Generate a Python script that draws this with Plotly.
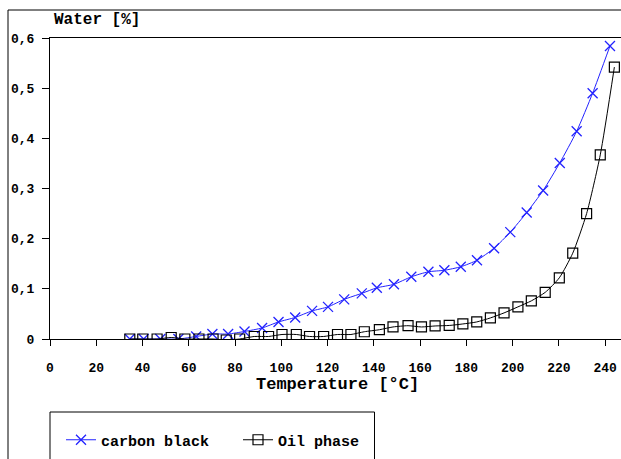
import plotly.graph_objects as go

# Carbon black series
cb_temp = [34.5, 40.5, 47.7, 55.5, 63.2, 70.2, 77.0, 84.1, 91.7, 98.8, 106.0, 113.3,
           120.2, 127.2, 134.8, 141.3, 148.7, 156.2, 163.6, 170.5, 177.6, 184.6,
           192.0, 199.0, 206.1, 213.2, 220.4, 227.7, 234.6, 242.1]
cb_water = [0.0, 0.0, 0.0, 0.0, 0.005, 0.01, 0.01, 0.015, 0.022, 0.034, 0.043, 0.056,
            0.064, 0.079, 0.091, 0.102, 0.109, 0.124, 0.134, 0.137, 0.144, 0.157,
            0.181, 0.213, 0.252, 0.296, 0.351, 0.414, 0.49, 0.584]

# Oil phase series
oil_temp = [34.5, 40.1, 46.3, 52.4, 58.3, 64.4, 70.5, 76.2, 82.0, 88.3, 94.5, 100.3,
            106.5, 112.2, 118.3, 124.3, 130.1, 135.9, 142.4, 148.3, 154.8, 160.6,
            166.5, 172.6, 178.5, 184.5, 190.4, 196.3, 202.3, 208.1, 214.1, 220.2,
            226.0, 232.0, 237.9, 244.0]
oil_water = [0.0, 0.0, 0.0, 0.003, 0.0, 0.0, 0.0, -0.002, 0.0, 0.005, 0.005, 0.009,
             0.009, 0.005, 0.005, 0.009, 0.009, 0.0145, 0.0185, 0.024, 0.0265, 0.024,
             0.026, 0.027, 0.030, 0.034, 0.042, 0.052, 0.064, 0.076, 0.093, 0.122,
             0.171, 0.250, 0.367, 0.542]

x_ticks = [0, 20, 40, 60, 80, 100, 120, 140, 160, 180, 200, 220, 240]
y_ticks = [0, 0.1, 0.2, 0.3, 0.4, 0.5, 0.6]
y_tick_text = ["0", "0,1", "0,2", "0,3", "0,4", "0,5", "0,6"]

FONT = "Liberation Mono"

fig = go.Figure()
fig.add_trace(go.Scatter(
    x=cb_temp, y=cb_water, name="carbon black", mode="lines+markers",
    line=dict(color="#2222ff", width=1, shape="spline", smoothing=0.6),
    marker=dict(symbol="x-thin-open", size=10, color="#2222ff",
                line=dict(color="#2222ff", width=1.3)),
))
fig.add_trace(go.Scatter(
    x=oil_temp, y=oil_water, name="Oil phase", mode="lines+markers",
    line=dict(color="black", width=1, shape="spline", smoothing=0.6),
    marker=dict(symbol="square-open", size=10, color="black",
                line=dict(color="black", width=1.2)),
))

W, H = 621, 459
L, R, T, B = 50, 0, 38, 120
pw, ph = W - L - R, H - T - B

def px(xp):
    return (xp - L) / pw

def py(yp):
    return (H - B - yp) / ph

fig.update_layout(
    width=W, height=H,
    margin=dict(l=L, r=R, t=T, b=B),
    paper_bgcolor="white", plot_bgcolor="white",
    font=dict(family=FONT, color="black", size=13, weight="bold"),
    showlegend=True,
    legend=dict(
        orientation="h", x=px(61), y=py(440), xanchor="left", yanchor="middle",
        font=dict(family=FONT, size=15, color="black", weight="bold"),
        bgcolor="rgba(0,0,0,0)", itemwidth=30,
        entrywidth=132, entrywidthmode="pixels",
    ),
    xaxis=dict(
        range=[0, (W - 49.5) / 2.315], tickvals=x_ticks,
        showline=True, linecolor="black", linewidth=1, mirror=True,
        ticks="outside", ticklen=6, tickcolor="black", tickwidth=1,
        showgrid=False, zeroline=False, ticklabelstandoff=10,
        tickfont=dict(family=FONT, size=13, weight="bold"),
    ),
    yaxis=dict(
        range=[0, 0.6], tickvals=y_ticks, ticktext=y_tick_text,
        showline=True, linecolor="black", linewidth=1,
        ticks="outside", ticklen=7, tickcolor="black", tickwidth=1,
        showgrid=False, zeroline=False, ticklabelstandoff=5,
        tickfont=dict(family=FONT, size=13, weight="bold"),
    ),
    annotations=[
        dict(text="Water [%]", xref="paper", yref="paper", x=px(52), y=py(20),
             xanchor="left", yanchor="middle", showarrow=False,
             font=dict(family=FONT, size=16, weight="bold")),
        dict(text="Temperature [°C]", xref="paper", yref="paper", x=px(337.5), y=py(385),
             xanchor="center", yanchor="middle", showarrow=False,
             font=dict(family=FONT, size=17, weight="bold")),
    ],
    shapes=[
        dict(type="line", xref="paper", yref="paper", x0=px(8), x1=px(621), y0=py(10), y1=py(10),
             line=dict(color="black", width=1)),
        dict(type="line", xref="paper", yref="paper", x0=px(8), x1=px(8), y0=py(10), y1=py(459),
             line=dict(color="black", width=1)),
        dict(type="rect", xref="paper", yref="paper", x0=px(50), x1=px(374.5), y0=py(412), y1=py(470),
             line=dict(color="black", width=1)),
    ],
)

fig.write_html("out.html")
